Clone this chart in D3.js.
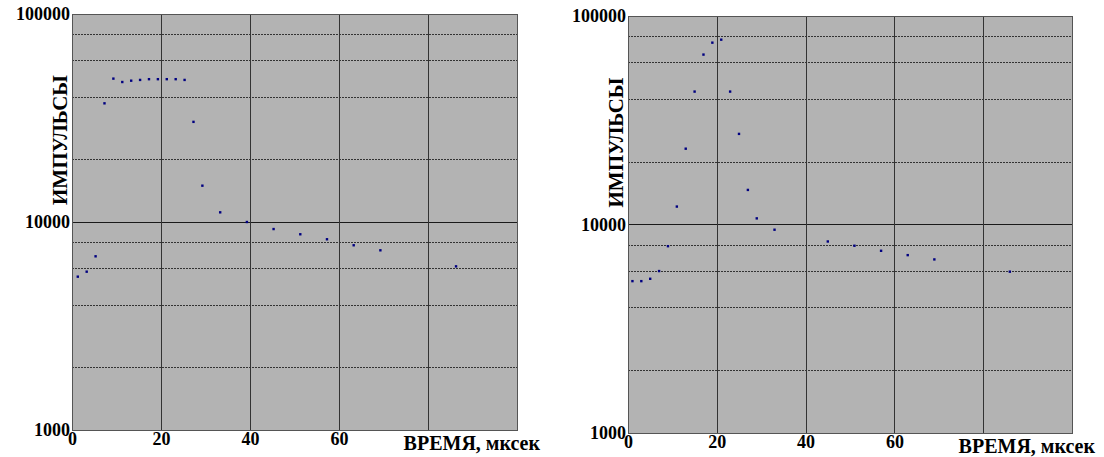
<!DOCTYPE html>
<html lang="ru">
<head>
    <meta charset="UTF-8">
    <title>импульсы / время</title>
    <script src="https://d3js.org/d3.v7.min.js"></script>
    <style>
        body { margin: 0; background: #fff; }
    </style>
</head>
<body>
    <svg width="1104" height="457"></svg>
    <script>
        // values (time in мксек, counts)
        const leftTime = [1.3, 3.3, 5.3, 7.3, 9.3, 11.3, 13.3, 15.3, 17.3, 19.3, 21.3, 23.3,
                          25.3, 27.3, 29.3, 33.3, 39.3, 45.3, 51.3, 57.3, 63.3, 69.3, 86.3];
        const leftCounts = [5460, 5770, 6840, 37200, 48900, 47100, 47800, 48200, 48600, 48600, 48600, 48600,
                            48200, 30300, 14950, 11130, 10000, 9250, 8730, 8260, 7730, 7310, 6120];

        const rightTime = [1, 3, 5, 7, 9, 11, 13, 15, 17, 19, 21, 23,
                           25, 27, 29, 33, 45, 51, 57, 63, 69, 86];
        const rightCounts = [5350, 5350, 5490, 5980, 7870, 12190, 23100, 43400, 65300, 74500, 77000, 43400,
                             27200, 14650, 10700, 9440, 8290, 7910, 7480, 7130, 6800, 5940];

        const yTicks = [1000, 10000, 100000];
        const yMinor = [2000, 4000, 6000, 8000, 20000, 40000, 60000, 80000];
        const xTicks = [0, 20, 40, 60];
        const xGrid = [20, 40, 60, 80];
        const xTitle = 'ВРЕМЯ, мксек';
        const yTitle = 'ИМПУЛЬСЫ';

        // no serif face in the sandbox, so this falls back to Liberation Sans
        const font = '"Times New Roman", "Liberation Serif", "Liberation Sans", sans-serif';

        const svg = d3.select('svg');

        function panel(box, xs, ys) {
            const g = svg.append('g');
            const x = d3.scaleLinear().domain([0, 100]).range([box.left, box.right]);
            const y = d3.scaleLog().domain([1000, 100000]).range([box.bottom, box.top]);

            g.append('rect')
                .attr('x', box.left).attr('y', box.top)
                .attr('width', box.right - box.left).attr('height', box.bottom - box.top)
                .attr('fill', '#b3b3b3');

            // dotted lines inside each decade
            g.selectAll('.minor').data(yMinor).enter().append('line')
                .attr('x1', box.left).attr('x2', box.right)
                .attr('y1', d => Math.round(y(d)) + 0.5).attr('y2', d => Math.round(y(d)) + 0.5)
                .attr('stroke', '#333').attr('stroke-dasharray', '2,1');

            g.append('line')
                .attr('x1', box.left).attr('x2', box.right)
                .attr('y1', Math.round(y(10000)) + 0.5).attr('y2', Math.round(y(10000)) + 0.5)
                .attr('stroke', '#1a1a1a');

            g.selectAll('.vgrid').data(xGrid).enter().append('line')
                .attr('x1', d => Math.round(x(d)) + 0.5).attr('x2', d => Math.round(x(d)) + 0.5)
                .attr('y1', box.top).attr('y2', box.bottom)
                .attr('stroke', '#333');

            g.append('rect')
                .attr('x', box.left + 0.5).attr('y', box.top + 0.5)
                .attr('width', box.right - box.left).attr('height', box.bottom - box.top)
                .attr('fill', 'none').attr('stroke', '#555');

            g.selectAll('.pt').data(xs).enter().append('rect')
                .attr('x', (d, i) => x(d) - 1.2)
                .attr('y', (d, i) => y(ys[i]) - 1.2)
                .attr('width', 2.4).attr('height', 2.4)
                .attr('fill', '#000080');

            // axes
            const yAxis = d3.axisLeft(y).tickValues(yTicks).tickSize(0).tickPadding(2).tickFormat(d3.format('d'));
            g.append('g').attr('transform', `translate(${box.left},0)`).call(yAxis)
                .attr('font-family', font).attr('font-weight', 'bold').attr('font-size', 18)
                .call(a => a.select('.domain').remove())
                .selectAll('text').attr('fill', '#000');

            const xAxis = d3.axisBottom(x).tickValues(xTicks).tickSize(0).tickPadding(2).tickFormat(d3.format('d'));
            g.append('g').attr('transform', `translate(0,${box.bottom})`).call(xAxis)
                .attr('font-family', font).attr('font-weight', 'bold').attr('font-size', 18)
                .call(a => a.select('.domain').remove())
                .selectAll('text').attr('fill', '#000');

            g.append('text')
                .attr('x', box.right + 23).attr('y', box.bottom + 20)
                .attr('text-anchor', 'end')
                .attr('font-family', font).attr('font-weight', 'bold').attr('font-size', 20)
                .text(xTitle);

            g.append('text')
                .attr('transform', `translate(${box.left - 5},${(box.top + box.bottom) / 2 - 82}) rotate(-90)`)
                .attr('text-anchor', 'middle')
                .attr('font-family', font).attr('font-weight', 'bold').attr('font-size', 21)
                .text(yTitle);
        }

        panel({ left: 72, right: 517, top: 14, bottom: 430 }, leftTime, leftCounts);
        panel({ left: 628, right: 1072, top: 16, bottom: 433 }, rightTime, rightCounts);
    </script>
</body>
</html>
